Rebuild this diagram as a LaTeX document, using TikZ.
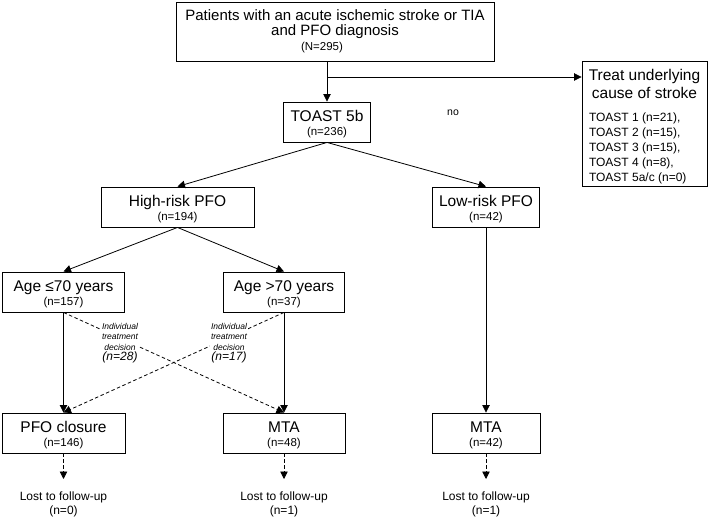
\documentclass[tikz,border=0pt]{standalone}
\usepackage{fontspec}
\setmainfont{Liberation Sans}
\usetikzlibrary{arrows.meta}
\newcommand{\bt}[2]{{\fontsize{15.5}{15}\selectfont\rule{0pt}{15pt}#1}\\{\fontsize{11.5}{14.3}\selectfont #2}}
\newcommand{\idec}[1]{Individual\\treatment\\decision\\{\fontsize{12}{12}\selectfont #1}}
\begin{document}
\begin{tikzpicture}[x=1pt,y=-1pt,
  box/.style={draw, line width=0.9pt, align=center, inner sep=0pt, minimum height=40pt, font=\fontsize{11.5}{14.3}\selectfont},
  arr/.style={-{Triangle[length=7.5pt,width=7.5pt]}, line width=0.8pt},
  darr/.style={arr, dash pattern=on 3.5pt off 2.5pt},
  lost/.style={align=center, inner sep=0pt, font=\fontsize{12}{14}\selectfont},
  dec/.style={align=center, fill=white, inner sep=1pt, font=\fontsize{8.5}{10.5}\selectfont\itshape}
]
\useasboundingbox (0,0) rectangle (709,518);

\node[box, minimum width=318pt, minimum height=59pt, font=\fontsize{15}{15}\selectfont] (top) at (335,31.5)
  {Patients with an acute ischemic stroke or TIA\\and PFO diagnosis\\{\fontsize{11.5}{14}\selectfont\hspace*{-26pt}(N=295)}};

\node[box, minimum width=87pt] (toast) at (327,122) {\bt{TOAST 5b}{(n=236)}};
\node[box, minimum width=153pt] (high) at (177.5,207) {\bt{High-risk PFO}{(n=194)}};
\node[box, minimum width=107pt] (low) at (486,207) {\bt{Low-risk PFO}{(n=42)}};
\node[box, minimum width=122pt] (age1) at (63.5,292) {\bt{Age ≤70 years}{(n=157)}};
\node[box, minimum width=121pt] (age2) at (284,292) {\bt{Age >70 years}{(n=37)}};
\node[box, minimum width=123pt] (pfo) at (63.5,433) {\bt{PFO closure}{(n=146)}};
\node[box, minimum width=122pt] (mta1) at (284,433) {\bt{MTA}{(n=48)}};
\node[box, minimum width=108pt] (mta2) at (486,433) {\bt{MTA}{(n=42)}};

\node[draw, line width=0.9pt, inner sep=0pt, minimum width=125pt, minimum height=125pt] (treat) at (644.5,123.5)
  {\begin{minipage}{125pt}\vspace*{6pt}\centering\fontsize{15.5}{18}\selectfont Treat underlying\\cause of stroke\par\vspace{8pt}
   \raggedright\leftskip=7pt\relax\fontsize{12}{15}\selectfont TOAST 1 (n=21),\\TOAST 2 (n=15),\\TOAST 3 (n=15),\\TOAST 4 (n=8),\\TOAST 5a/c (n=0)\par\end{minipage}};

\node[inner sep=0pt, font=\fontsize{10.5}{12}\selectfont] (no) at (453,113) {no};

\coordinate (br) at (327,77);
\draw[arr] (top.south -| toast.north) -- (toast.north);
\draw[arr] (br) -- (br -| treat.west);

\draw[arr] (toast.south) -- (high.north);
\draw[arr] (toast.south) -- (low.north);
\draw[arr] (high.south) -- (age1.north);
\draw[arr] (high.south) -- (age2.north);
\draw[arr] (age1.south) -- (pfo.north);
\draw[arr] (age2.south) -- (mta1.north);
\draw[arr] (low.south) -- (mta2.north);
\draw[darr] (age1.south) -- (mta1.north);
\draw[darr] (age2.south) -- (pfo.north);

\node[dec] (d1) at (120,343) {\idec{(n=28)}};
\node[dec] (d2) at (229,343) {\idec{(n=17)}};

\coordinate (e1) at (63.5,479);
\coordinate (e2) at (284,479);
\coordinate (e3) at (486,479);
\draw[darr] (pfo.south) -- (e1);
\draw[darr] (mta1.south) -- (e2);
\draw[darr] (mta2.south) -- (e3);

\node[lost] (l1) at (63.5,504) {Lost to follow-up\\(n=0)};
\node[lost] (l2) at (284,504) {Lost to follow-up\\(n=1)};
\node[lost] (l3) at (486,504) {Lost to follow-up\\(n=1)};
\end{tikzpicture}
\end{document}
